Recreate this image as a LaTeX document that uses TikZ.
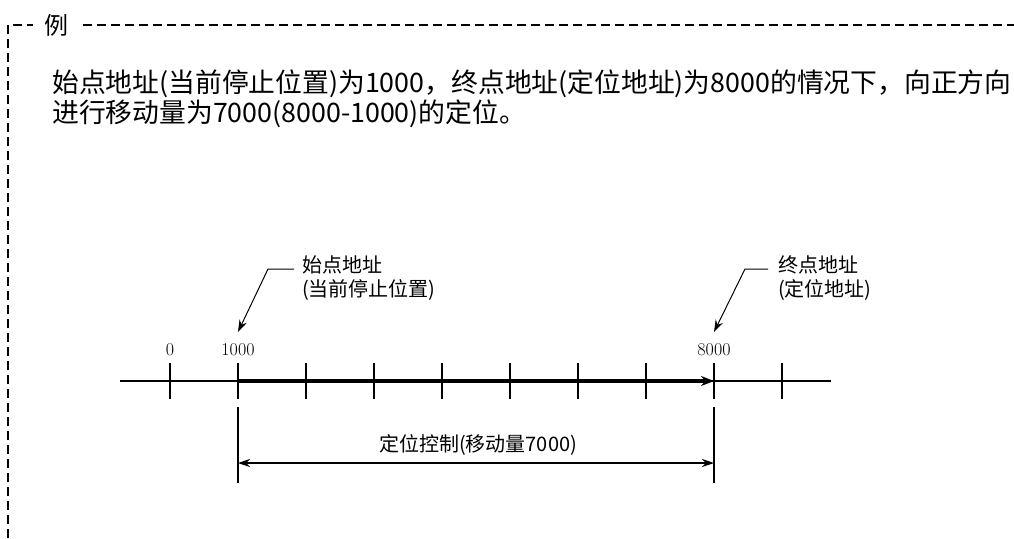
\documentclass[tikz,border=0pt]{standalone}
\usepackage{fontspec}
\newfontfamily\cjk{Noto Sans CJK SC}
\usetikzlibrary{arrows.meta}

\tikzset{
    frameline/.style={line width=1.3pt, dash pattern=on 9pt off 5pt},
    headtext/.style={anchor=base west, inner sep=0pt, font=\cjk\fontsize{26.8}{30}\selectfont},
    labeltext/.style={anchor=north west, inner sep=0pt, align=left, font=\cjk\fontsize{20}{24}\selectfont},
    ticktext/.style={font=\fontsize{18}{18}\selectfont},
    leader/.style={line width=1pt, -{Stealth[length=12pt,width=8pt]}},
}

\begin{document}
\begin{tikzpicture}[x=1pt, y=-1pt, line join=round]
    \useasboundingbox (0,0) rectangle (1014,538);
    \coordinate (F0) at (8,538);
    \coordinate (F1) at (8,25);
    \coordinate (F2) at (1014,25);
    \draw[frameline] (F0) -- (F1) -- (F2);
    \node[fill=white, inner xsep=11pt, inner ysep=2pt, font=\cjk\fontsize{24}{24}\selectfont] (ex) at (56,25) {例};

    \node[headtext] (head1) at (52,92) {始点地址(当前停止位置)为1000，终点地址(定位地址)为8000的情况下，向正方向};
    \node[headtext] (head2) at (52,122) {进行移动量为7000(8000-1000)的定位。};

    \coordinate (A0) at (120,381);
    \coordinate (A1) at (831,381);
    \draw[line width=2pt] (A0) -- (A1);
    \foreach \i in {0,...,9}
        \draw[line width=2pt] ({170+68*\i},363) -- ({170+68*\i},399);
    \node[ticktext] (t0) at (170,350) {0};
    \node[ticktext] (t1) at (238,350) {1000};
    \node[ticktext] (t8) at (714,350) {8000};

    \coordinate (P1) at (238,381);
    \coordinate (P8) at (714,381);
    \draw[line width=4pt, -{Stealth[length=13pt,width=10pt]}] (P1) -- (P8);

    \coordinate (E1a) at (238,407);
    \coordinate (E1b) at (238,483);
    \coordinate (E8a) at (714,407);
    \coordinate (E8b) at (714,483);
    \draw[line width=1.3pt] (E1a) -- (E1b);
    \draw[line width=1.3pt] (E8a) -- (E8b);
    \coordinate (D1) at (238,463);
    \coordinate (D8) at (714,463);
    \draw[line width=1.5pt, {Stealth[length=12pt,width=8pt]}-{Stealth[length=12pt,width=8pt]}] (D1) -- (D8);
    \node[font=\cjk\fontsize{20}{20}\selectfont] (move) at (478,445) {定位控制(移动量7000)};

    \coordinate (Stip) at (238,332);
    \coordinate (Sbend) at (268,269);
    \coordinate (Send) at (294,269);
    \draw[leader] (Send) -- (Sbend) -- (Stip);
    \node[labeltext] (startlbl) at (302,255) {始点地址\\(当前停止位置)};

    \coordinate (Etip) at (714,332);
    \coordinate (Ebend) at (745,269);
    \coordinate (Eend) at (768,269);
    \draw[leader] (Eend) -- (Ebend) -- (Etip);
    \node[labeltext] (endlbl) at (778,255) {终点地址\\(定位地址)};
\end{tikzpicture}
\end{document}
